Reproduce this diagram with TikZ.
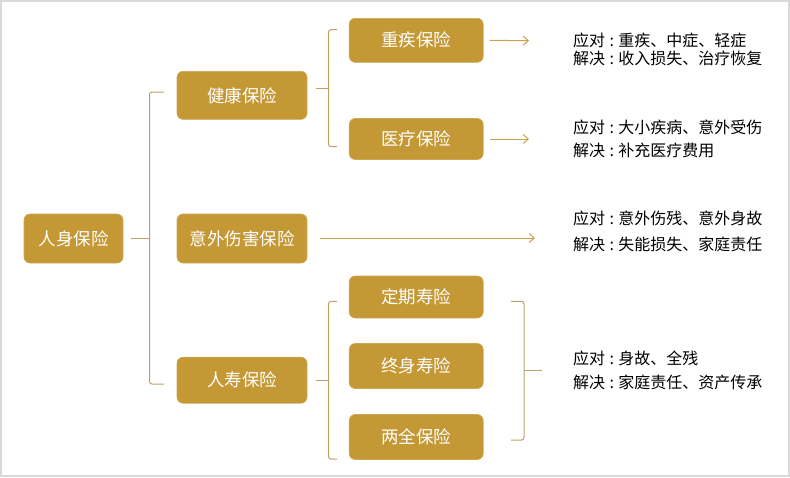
\documentclass[tikz,border=0pt]{standalone}
\usepackage{fontspec}
\setmainfont{Noto Sans CJK SC}
\usetikzlibrary{arrows.meta}
\definecolor{gold}{RGB}{196,152,52}
\definecolor{braceC}{RGB}{188,160,100}
\definecolor{arrC}{RGB}{200,162,82}
\definecolor{frameC}{RGB}{217,217,217}
\newcommand\cco{\makebox[0.82em][c]{:}}
\begin{document}
\begin{tikzpicture}[x=1pt,y=-1pt,
  box/.style={fill=gold,draw=gold!85!white,line width=0.6pt,rounded corners=6pt,text=white,
    font=\fontsize{17.5}{20}\selectfont,inner sep=0pt,minimum width=#1},
  box/.default=130pt,
  info/.style={anchor=west,inner sep=0pt,font=\fontsize{16}{19}\selectfont,text=black},
  brace/.style={draw=braceC,line width=1pt,rounded corners=2.5pt},
  arr/.style={draw=arrC,line width=1pt,-{Straight Barb[length=5pt,width=9pt,line width=1pt]}}]
\useasboundingbox (0,0) rectangle (790,477);
\draw[frameC,line width=2pt] (1,1) rectangle (789,476);

% nodes
\node[box=99pt,minimum height=49pt] (rs) at (73.5,238.5) {人身保险};
\node[box,minimum height=48pt] (jk) at (242,95.3) {健康保险};
\node[box,minimum height=49pt] (yw) at (242,238.5) {意外伤害保险};
\node[box,minimum height=46pt] (sx) at (242,380.2) {人寿保险};
\node[box=134pt,minimum height=44pt] (zj) at (416.2,40.3) {重疾保险};
\node[box=134pt,minimum height=41pt] (yl) at (416.2,139) {医疗保险};
\node[box=134pt,minimum height=42pt] (dq) at (416.2,297) {定期寿险};
\node[box=134pt,minimum height=45pt] (zs) at (416.2,366) {终身寿险};
\node[box=134pt,minimum height=45pt] (lq) at (416.2,437) {两全保险};

% info texts
\node[info] (t1a) at (573,40.5) {应对\cco 重疾、中症、轻症};
\node[info] (t1b) at (573,58.3) {解决\cco 收入损失、治疗恢复};
\node[info] (t2a) at (573,127) {应对\cco 大小疾病、意外受伤};
\node[info] (t2b) at (573,150.5) {解决\cco 补充医疗费用};
\node[info] (t3a) at (573,218.3) {应对\cco 意外伤残、意外身故};
\node[info] (t3b) at (573,244) {解决\cco 失能损失、家庭责任};
\node[info] (t4a) at (573,358.3) {应对\cco 身故、全残};
\node[info] (t4b) at (573,382.7) {解决\cco 家庭责任、资产传承};

% brace coordinates
\coordinate (b1tip) at (131,238.5);
\coordinate (b1v) at (149.5,238.5);
\coordinate (b1t) at (164,92);
\coordinate (b1b) at (164,384);
\coordinate (b2tip) at (316,88.3);
\coordinate (b2v) at (328.5,88.3);
\coordinate (b2t) at (337,29.7);
\coordinate (b2b) at (337,146.7);
\coordinate (b3tip) at (316,380);
\coordinate (b3v) at (328.5,380);
\coordinate (b3t) at (337,301.3);
\coordinate (b3b) at (337,459);
\coordinate (b4tip) at (542,370.3);
\coordinate (b4v) at (524,370.3);
\coordinate (b4t) at (511,301.3);
\coordinate (b4b) at (511,440);

% braces
\draw[brace] (b1t) -- (b1v |- b1t) -- (b1v |- b1b) -- (b1b);
\draw[brace] (b1tip) -- (b1v);
\draw[brace] (b2t) -- (b2v |- b2t) -- (b2v |- b2b) -- (b2b);
\draw[brace] (b2tip) -- (b2v);
\draw[brace] (b3t) -- (b3v |- b3t) -- (b3v |- b3b) -- (b3b);
\draw[brace] (b3tip) -- (b3v);
\draw[brace] (b4t) -- (b4v |- b4t) -- (b4v |- b4b) -- (b4b);
\draw[brace] (b4tip) -- (b4v);

% arrows
\coordinate (a1) at (529,40.7);
\coordinate (a2) at (529,139);
\coordinate (a3) at (535,238);
\draw[arr] ([xshift=6pt]zj.east) -- (a1);
\draw[arr] ([xshift=6pt]yl.east) -- (a2);
\draw[arr] ([xshift=13pt,yshift=0.5pt]yw.east) -- (a3);
\end{tikzpicture}
\end{document}
